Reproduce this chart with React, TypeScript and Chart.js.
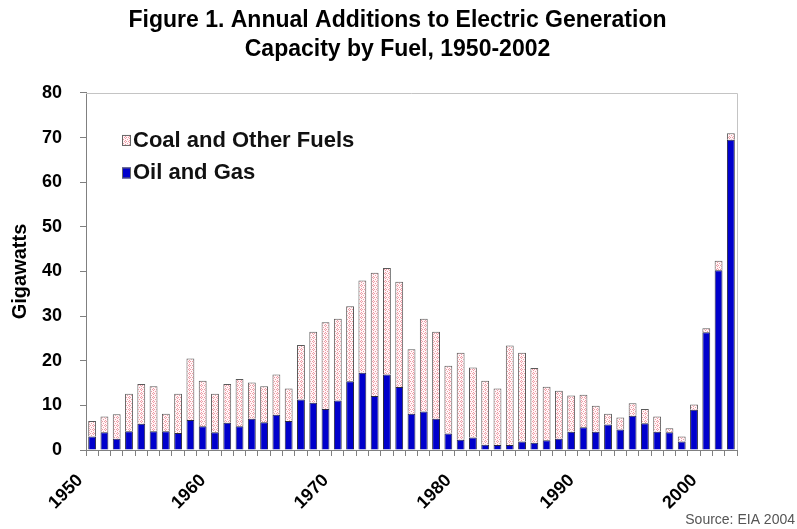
import { useEffect, useRef } from 'react';
import { Chart, registerables } from 'chart.js';

Chart.register(...registerables);

const years = [
  '1950', '1951', '1952', '1953', '1954', '1955', '1956', '1957', '1958', '1959',
  '1960', '1961', '1962', '1963', '1964', '1965', '1966', '1967', '1968', '1969',
  '1970', '1971', '1972', '1973', '1974', '1975', '1976', '1977', '1978', '1979',
  '1980', '1981', '1982', '1983', '1984', '1985', '1986', '1987', '1988', '1989',
  '1990', '1991', '1992', '1993', '1994', '1995', '1996', '1997', '1998', '1999',
  '2000', '2001', '2002',
];

const oilAndGas = [
  3.0, 4.0, 2.5, 4.2, 5.9, 4.2, 4.2, 3.8, 6.7, 5.3,
  4.0, 6.1, 5.3, 7.0, 6.2, 7.9, 6.5, 11.3, 10.6, 9.2,
  11.1, 15.4, 17.3, 12.1, 16.9, 14.1, 8.1, 8.6, 7.0, 3.7,
  2.3, 2.8, 1.2, 1.1, 1.1, 1.9, 1.6, 2.2, 2.5, 4.1,
  5.1, 4.1, 5.7, 4.6, 7.7, 6.0, 4.1, 4.0, 1.9, 9.0,
  26.4, 40.3, 69.5,
];

const coalAndOther = [
  3.5, 3.5, 5.5, 8.4, 8.9, 10.1, 3.9, 8.8, 13.8, 10.2,
  8.6, 8.7, 10.6, 8.1, 8.1, 9.0, 7.3, 12.2, 15.9, 19.4,
  18.3, 16.8, 20.7, 27.6, 23.9, 23.6, 14.5, 20.8, 19.5, 15.2,
  19.5, 15.7, 14.3, 12.7, 22.3, 19.9, 16.8, 12.0, 10.8, 8.1,
  7.3, 5.8, 2.4, 2.7, 2.8, 3.2, 3.4, 0.9, 1.1, 1.2,
  0.9, 2.1, 1.5,
];

const seriesLabels = ['Oil and Gas', 'Coal and Other Fuels'];
const titleLines = ['Figure 1. Annual Additions to Electric Generation', 'Capacity by Fuel, 1950-2002'];
const yAxisTitle = 'Gigawatts';
const sourceNote = 'Source: EIA 2004';
const labelledYears = ['1950', '1960', '1970', '1980', '1990', '2000'];

const FONT = '"Liberation Sans", Arial, Helvetica, sans-serif';

function makePattern(): CanvasPattern | string {
  const c = document.createElement('canvas');
  c.width = 4;
  c.height = 4;
  const g = c.getContext('2d');
  if (!g) return '#f8e0e2';
  g.fillStyle = '#fff6f7';
  g.fillRect(0, 0, 4, 4);
  g.fillStyle = '#ee9aa4';
  g.fillRect(1, 0, 1, 1);
  g.fillRect(0, 1, 1, 1);
  g.fillRect(2, 1, 1, 1);
  g.fillRect(1, 2, 1, 1);
  g.fillRect(3, 3, 1, 1);
  const p = g.createPattern(c, 'repeat');
  return p || '#f8e0e2';
}

const framePlugin = {
  id: 'plotFrame',
  beforeDatasetsDraw(chart: any) {
    const { ctx, chartArea: a } = chart;
    ctx.save();
    ctx.strokeStyle = '#c4c4c4';
    ctx.lineWidth = 1;
    ctx.beginPath();
    ctx.moveTo(a.left, Math.round(a.top) + 0.5);
    ctx.lineTo(Math.round(a.right) + 0.5, Math.round(a.top) + 0.5);
    ctx.lineTo(Math.round(a.right) + 0.5, a.bottom);
    ctx.stroke();
    ctx.restore();
  },
};

const insetLegendPlugin = {
  id: 'insetLegend',
  afterDraw(chart: any) {
    const { ctx, chartArea: a } = chart;
    const items = chart.data.datasets.slice().reverse();
    ctx.save();
    ctx.font = `bold 22px ${FONT}`;
    ctx.textBaseline = 'middle';
    ctx.textAlign = 'left';
    items.forEach((ds: any, i: number) => {
      const cy = a.top + 47.5 + i * 32.5;
      const bx = a.left + 36;
      ctx.fillStyle = ds.backgroundColor;
      ctx.fillRect(bx, cy - 5.5, 9, 11);
      ctx.strokeStyle = '#666';
      ctx.lineWidth = 1;
      ctx.strokeRect(bx + 0.5, cy - 5, 8, 10);
      ctx.fillStyle = '#111';
      ctx.fillText(ds.label, bx + 11, cy);
    });
    ctx.restore();
  },
};

export default function App() {
  const canvasRef = useRef<HTMLCanvasElement | null>(null);

  useEffect(() => {
    document.body.style.margin = '0';
    const canvas = canvasRef.current;
    if (!canvas) return;
    Chart.defaults.font.family = FONT;
    const pattern = makePattern();

    const chart = new Chart(canvas, {
      type: 'bar',
      data: {
        labels: years,
        datasets: [
          {
            label: seriesLabels[0],
            data: oilAndGas,
            backgroundColor: '#0000cc',
            borderColor: '#2a2a40',
            borderWidth: 1,
            barPercentage: 0.64,
            categoryPercentage: 1,
          },
          {
            label: seriesLabels[1],
            data: coalAndOther,
            backgroundColor: pattern as any,
            borderColor: '#5a5a5a',
            borderWidth: 1,
            barPercentage: 0.64,
            categoryPercentage: 1,
          },
        ],
      },
      options: {
        responsive: false,
        animation: false,
        layout: { padding: { left: 0, right: 2, top: 0, bottom: 0 } },
        plugins: {
          legend: { display: false },
          tooltip: { enabled: false },
          title: {
            display: true,
            text: titleLines,
            color: '#000',
            font: { size: 23, weight: 'bold', lineHeight: 1.26 },
            padding: { top: 6, bottom: 29 },
          },
          subtitle: {
            display: true,
            text: sourceNote,
            position: 'bottom',
            align: 'end',
            color: '#555',
            font: { size: 14, weight: 'normal', lineHeight: 1.2 },
            padding: 0,
          },
        },
        scales: {
          x: {
            stacked: true,
            offset: true,
            grid: {
              display: true,
              offset: true,
              drawOnChartArea: false,
              drawTicks: true,
              tickLength: 6,
              color: '#808080',
            },
            border: { display: true, color: '#808080' },
            ticks: {
              autoSkip: false,
              minRotation: 45,
              maxRotation: 45,
              padding: 14,
              labelOffset: -12,
              color: '#000',
              font: { size: 18, weight: 'bold' },
              callback: (_v: any, index: number) =>
                labelledYears.includes(years[index]) ? years[index] : '',
            },
            afterFit: (s: any) => {
              s.height = 62.2;
            },
          },
          y: {
            stacked: true,
            min: 0,
            max: 80,
            ticks: {
              stepSize: 10,
              padding: 18,
              color: '#000',
              font: { size: 18, weight: 'bold' },
            },
            grid: { drawOnChartArea: false, drawTicks: true, tickLength: 6, color: '#808080' },
            border: { display: true, color: '#808080' },
            title: {
              display: true,
              text: yAxisTitle,
              color: '#000',
              font: { size: 20, weight: 'bold', lineHeight: 1.2 },
              padding: { top: 8.5, bottom: 0 },
            },
            afterFit: (s: any) => {
              s.width = 86;
            },
          },
          y2: {
            type: 'linear',
            position: 'right',
            display: true,
            grid: { display: false },
            ticks: { display: false },
            border: { display: false },
            afterFit: (s: any) => {
              s.width = 58;
            },
          },
        },
      } as any,
      plugins: [framePlugin, insetLegendPlugin],
    });

    return () => {
      chart.destroy();
    };
  }, []);

  return (
    <div style={{ width: 797, height: 529 }}>
      <canvas ref={canvasRef} width={797} height={529} style={{ display: 'block' }} />
    </div>
  );
}
